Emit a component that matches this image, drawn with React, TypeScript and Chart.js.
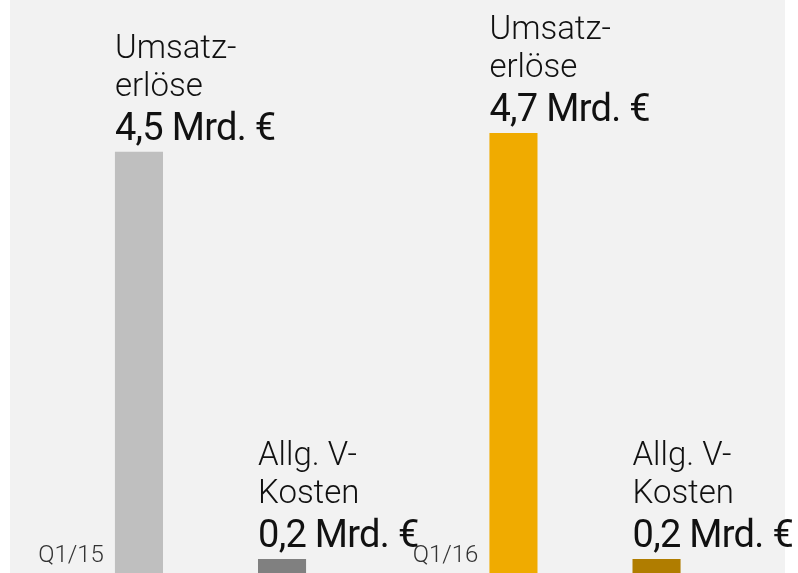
import React, { useEffect, useRef } from "react";
import { Chart, registerables } from "chart.js";

Chart.register(...registerables);

const categories = ["Q1/15", "Q1/16"];
const revenueValues = [4.5, 4.7];
const costValues = [0.15, 0.15];
const seriesNames = [["Umsatz-", "erlöse"], ["Allg. V-", "Kosten"]];
const revenueLabels = ["4,5 Mrd. €", "4,7 Mrd. €"];
const costLabels = ["0,2 Mrd. €", "0,2 Mrd. €"];
const revenueColors = ["#bfbfbf", "#f0ab00"];
const costColors = ["#808080", "#b07d00"];

const labelPlugin = {
  id: "barLabels",
  afterDatasetsDraw(chart: any) {
    const ctx = chart.ctx as CanvasRenderingContext2D;
    const valueSets = [revenueLabels, costLabels];
    ctx.save();
    chart.data.datasets.forEach((_ds: any, di: number) => {
      const meta = chart.getDatasetMeta(di);
      meta.data.forEach((bar: any, i: number) => {
        const props = bar.getProps(["x", "y", "width"], true);
        const left = props.x - props.width / 2;
        const top = props.y;
        ctx.textAlign = "left";
        ctx.textBaseline = "alphabetic";
        ctx.fillStyle = "#111";
        ctx.font = "400 38px Roboto";
        (ctx as any).letterSpacing = "-0.7px";
        ctx.fillText(valueSets[di][i], left, top - 12);
        ctx.font = "300 33px Roboto";
        (ctx as any).letterSpacing = "0px";
        const lines = seriesNames[di];
        lines.forEach((ln: string, li: number) => {
          const off = 56 + (lines.length - 1 - li) * 38;
          ctx.fillText(ln, left, top - off);
        });
        if (di === 0) {
          ctx.textAlign = "right";
          ctx.fillStyle = "#333";
          ctx.font = "300 24px Roboto";
          ctx.fillText(chart.data.labels[i], left - 11, chart.chartArea.bottom - 11);
        }
      });
    });
    ctx.restore();
  },
};

export default function App() {
  const ref = useRef<HTMLCanvasElement>(null);
  useEffect(() => {
    if (!ref.current) return;
    const chart = new Chart(ref.current, {
      type: "bar",
      data: {
        labels: categories,
        datasets: [
          { label: "Umsatzerlöse", data: revenueValues, backgroundColor: revenueColors },
          { label: "Allg. V-Kosten", data: costValues, backgroundColor: costColors },
        ],
      },
      options: {
        animation: false,
        responsive: true,
        maintainAspectRatio: false,
        layout: { padding: { left: 23.25, right: 25.75, top: 0, bottom: 0 } },
        datasets: { bar: { categoryPercentage: 0.764, barPercentage: 0.336 } } as any,
        plugins: { legend: { display: false }, tooltip: { enabled: false } },
        scales: {
          x: { display: false },
          y: { display: false, min: 0, max: 6.12 },
        },
      },
      plugins: [labelPlugin],
    });
    return () => chart.destroy();
  }, []);
  return (
    <div style={{ position: "absolute", left: 0, top: 0, width: 798, height: 573 }}>
      <div
        style={{
          position: "absolute",
          left: 10,
          top: 0,
          width: 775,
          height: 573,
          background: "#f2f2f2",
        }}
      />
      <div style={{ position: "absolute", left: 0, top: 0, width: 798, height: 573 }}>
        <canvas ref={ref} />
      </div>
    </div>
  );
}
